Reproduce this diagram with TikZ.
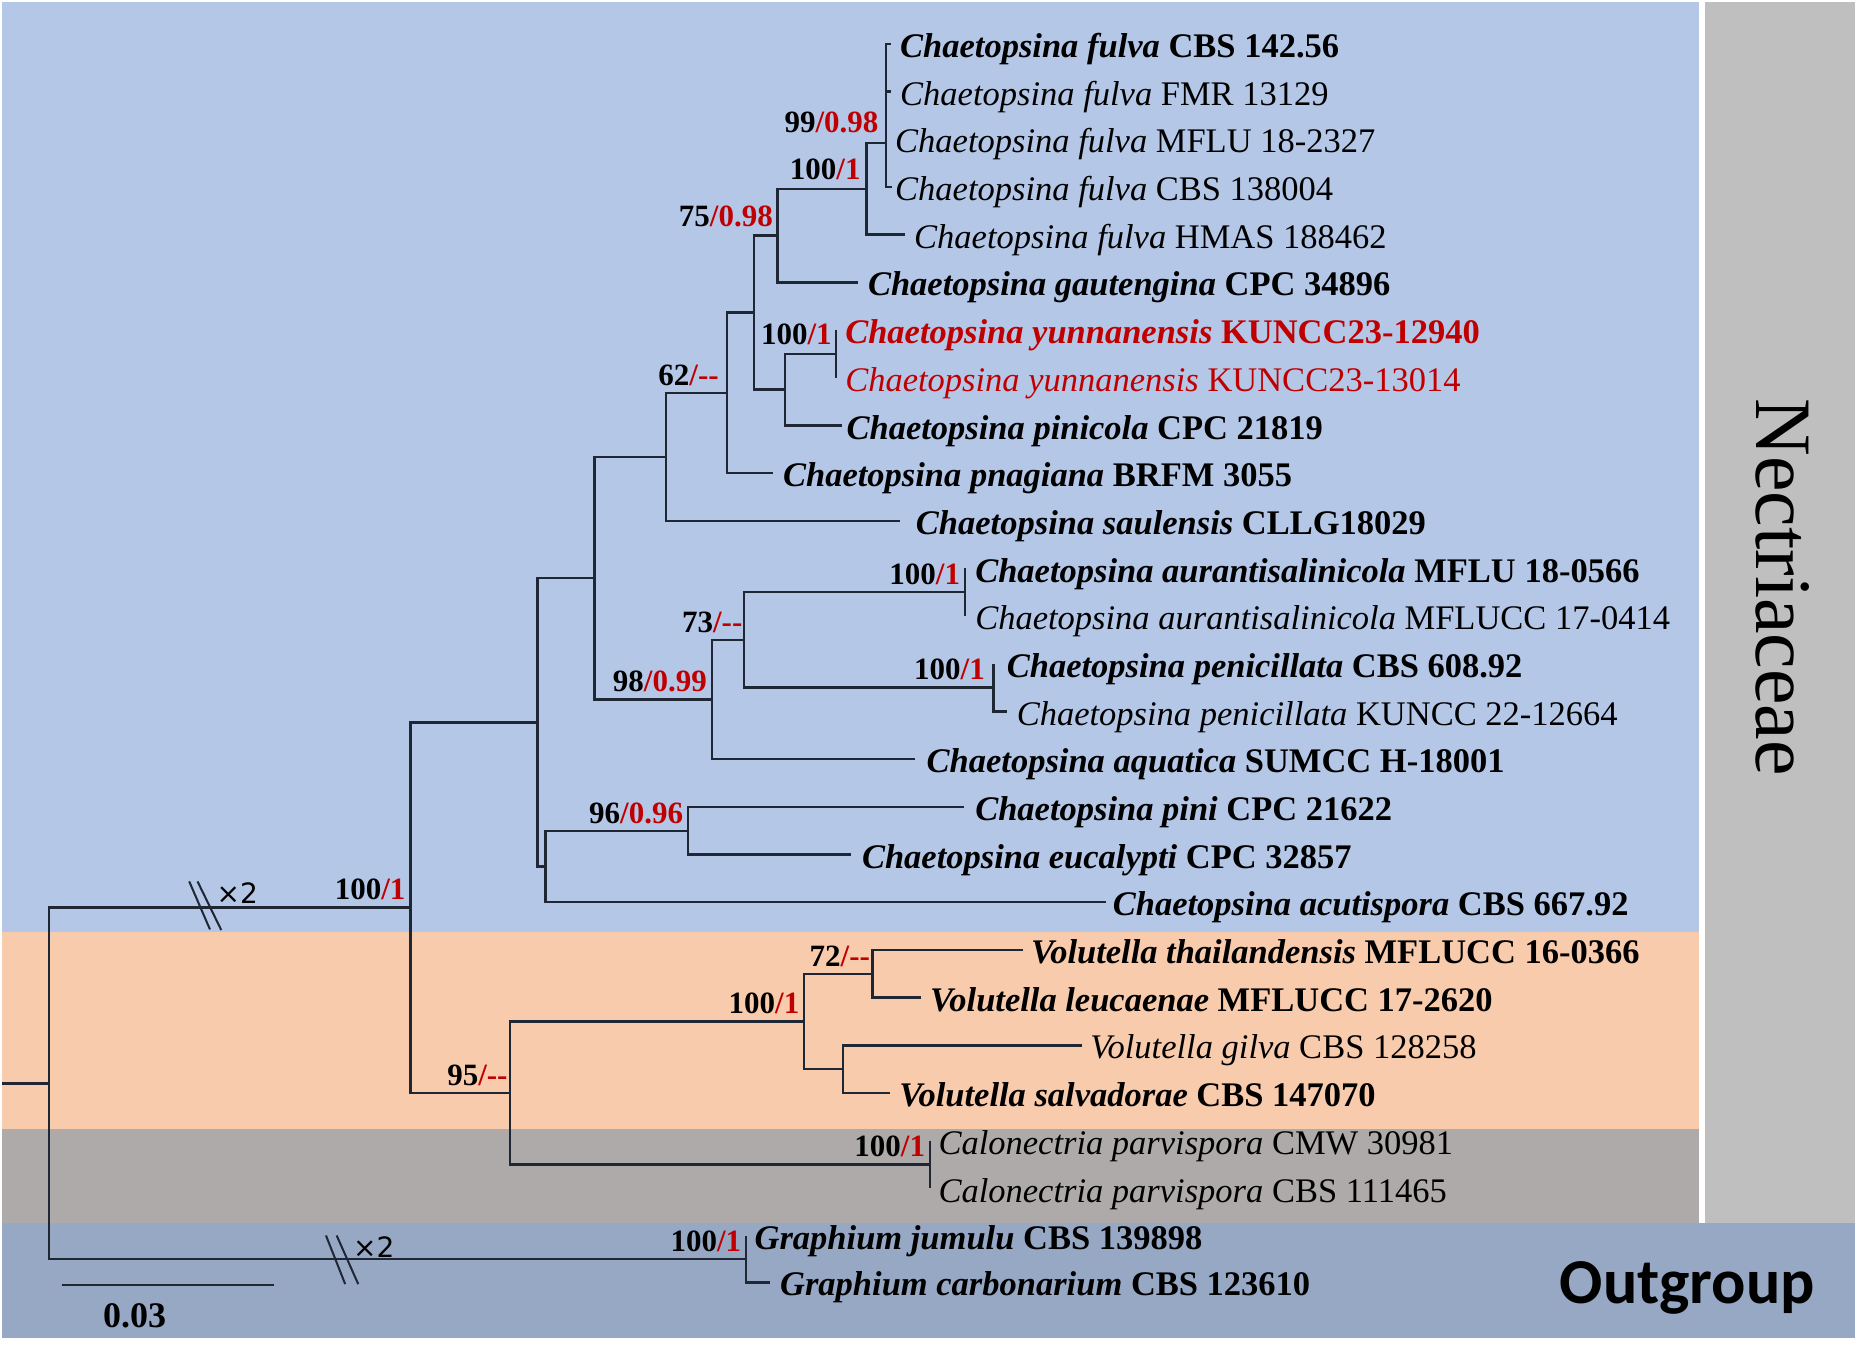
\documentclass[tikz,border=0pt]{standalone}
\usepackage{fontspec}
\setmainfont{Liberation Serif}
\newfontfamily\calib{Carlito}
\newfontfamily\djv{DejaVu Sans}
\definecolor{bgblue}{HTML}{B4C7E7}
\definecolor{bgpeach}{HTML}{F8CBAD}
\definecolor{bggray}{HTML}{AEAAAA}
\definecolor{bgout}{HTML}{96A8C4}
\definecolor{bgbar}{HTML}{BFBFBF}
\definecolor{brc}{HTML}{1E2733}
\definecolor{myred}{HTML}{C00000}
\newcommand\lb[2]{\textbf{\textit{#1} #2}}
\newcommand\lr[2]{\textit{#1} #2}
\newcommand\rd[1]{\textcolor{myred}{#1}}
\begin{document}
\begin{tikzpicture}[x=1.18622pt,y=-1.18622pt,
  br/.style={draw=brc, line width=2.4pt, line join=miter},
  brk/.style={draw=brc, line width=2pt},
  leaf/.style={anchor=base west, inner sep=0pt, text=black, font=\fontsize{34.5}{40}\selectfont},
  redleaf/.style={leaf, text=myred},
  lab/.style={anchor=base east, inner sep=0pt, text=black, font=\fontsize{31}{36}\selectfont\bfseries},
  times/.style={anchor=base west, inner sep=0pt, text=black, font=\djv\fontsize{28}{32}\selectfont},
]
\useasboundingbox (0,0) rectangle (1568,1135);
\fill[white] (0,0) rectangle (1568,1135);
% background bands
\fill[bgblue] (2,2) rectangle (1432,785.5);
\fill[bgpeach] (2,785.5) rectangle (1432,951.5);
\fill[bggray] (2,951.5) rectangle (1432,1031);
\fill[bgout] (2,1031) rectangle (1564,1128);
\fill[bgbar] (1437.5,2) rectangle (1564,1031);

% internal nodes (x, attachment y)
\coordinate (stub) at (2,913.3);
\coordinate (root) at (41.5,913.3);
\coordinate (n1) at (346,765.15);
\coordinate (n2) at (453,608.9);
\coordinate (n3) at (501,487.4);
\coordinate (s) at (561.5,385.1);
\coordinate (t) at (613,331.2);
\coordinate (u) at (635.5,263.5);
\coordinate (w) at (655.6,198.6);
\coordinate (x) at (730.6,159.2);
\coordinate (y) at (746.7,120.6);
\coordinate (z) at (661.8,328.45);
\coordinate (yun) at (704.8,298.3);
\coordinate (r) at (600,589.75);
\coordinate (aa) at (627,539.5);
\coordinate (bb) at (813.5,499.3);
\coordinate (cc) at (837.4,579.7);
\coordinate (p) at (460,730.45);
\coordinate (q) at (580,700.3);
\coordinate (v) at (430,921.4);
\coordinate (vv) at (678,861.1);
\coordinate (v72) at (735.5,820.9);
\coordinate (vg) at (710.5,901.3);
\coordinate (cp) at (784,981.7);
\coordinate (gr) at (629,1061.5);

% leaf tips
\coordinate (t1) at (751,37);
\coordinate (t2) at (751,77.2);
\coordinate (t3) at (746.7,117.4);
\coordinate (t4) at (752,157.6);
\coordinate (t5) at (763,197.8);
\coordinate (t6) at (723,238);
\coordinate (t7) at (704.8,278.2);
\coordinate (t8) at (704.8,318.4);
\coordinate (t9) at (709.5,358.6);
\coordinate (t10) at (652,398.8);
\coordinate (t11) at (759,439);
\coordinate (t12) at (813.5,479.2);
\coordinate (t13) at (813.5,519.4);
\coordinate (t14) at (837.4,559.6);
\coordinate (t15) at (848.6,599.8);
\coordinate (t16) at (771,640);
\coordinate (t17) at (813,680.2);
\coordinate (t18) at (717,720.4);
\coordinate (t19) at (932,760.6);
\coordinate (t20) at (862,800.8);
\coordinate (t21) at (776,841);
\coordinate (t22) at (912,881.2);
\coordinate (t23) at (750,921.4);
\coordinate (t24) at (784,961.6);
\coordinate (t25) at (784,1001.8);
\coordinate (t26) at (629,1042);
\coordinate (t27) at (649,1081);

% branches
\draw[br] (stub) -- (root);
\draw[br] (root) |- (n1) (root) |- (gr);
\draw[br] (n1) |- (n2) (n1) |- (v);
\draw[br] (n2) |- (n3) (n2) |- (p);
\draw[br] (n3) |- (s) (n3) |- (r);
\draw[br] (s) |- (t) (s) |- (t11);
\draw[br] (t) |- (u) (t) |- (t10);
\draw[br] (u) |- (w) (u) |- (z);
\draw[br] (w) |- (x) (w) |- (t6);
\draw[br] (x) |- (y) (x) |- (t5);
\draw[br] (y) |- (t1) (y) |- (t2) (y) -- (t3) (y) |- (t4);
\draw[br] (z) |- (yun) (z) |- (t9);
\draw[br] (yun) -- (t7) (yun) -- (t8);
\draw[br] (r) |- (aa) (r) |- (t16);
\draw[br] (aa) |- (bb) (aa) |- (cc);
\draw[br] (bb) -- (t12) (bb) -- (t13);
\draw[br] (cc) -- (t14) (cc) |- (t15);
\draw[br] (p) |- (q) (p) |- (t19);
\draw[br] (q) |- (t17) (q) |- (t18);
\draw[br] (v) |- (vv) (v) |- (cp);
\draw[br] (vv) |- (v72) (vv) |- (vg);
\draw[br] (v72) |- (t20) (v72) |- (t21);
\draw[br] (vg) |- (t22) (vg) |- (t23);
\draw[br] (cp) -- (t24) (cp) -- (t25);
\draw[br] (gr) -- (t26) (gr) |- (t27);

% axis breaks
\draw[brk] (159.5,743) -- (177,783.5);
\draw[brk] (166.5,743) -- (186.5,784);
\node[times] (x2a) at (182.5,762) {×2};
\draw[brk] (274.8,1041.5) -- (291,1082.5);
\draw[brk] (283.8,1041.5) -- (302,1082.5);
\node[times] (x2b) at (297.5,1060) {×2};

% scale bar
\coordinate (sb1) at (52,1083);
\coordinate (sb2) at (231,1083);
\draw[br] (sb1) -- (sb2);
\node[anchor=base, inner sep=0pt, font=\fontsize{36}{40}\selectfont\bfseries] (sbl) at (113.5,1119.5) {0.03};

% support labels
\node[lab] (Ln1) at ([shift={(-4,-6.5)}]n1) {100\rd{/1}};
\node[lab] (Lv) at ([shift={(-2,-6.5)}]v) {95\rd{/-{}-}};
\node[lab] (Lvv) at ([shift={(-4,-6.5)}]vv) {100\rd{/1}};
\node[lab] (Lv72) at ([shift={(-2,-6.5)}]v72) {72\rd{/-{}-}};
\node[lab] (Lcp) at ([shift={(-4,-6.5)}]cp) {100\rd{/1}};
\node[lab] (Lgr) at ([shift={(-4,-6.5)}]gr) {100\rd{/1}};
\node[lab] (Lq) at ([shift={(-4,-6.5)}]q) {96\rd{/0.96}};
\node[lab] (Lr) at ([shift={(-4,-6.5)}]r) {98\rd{/0.99}};
\node[lab] (Laa) at ([shift={(-1,-6.5)}]aa) {73\rd{/-{}-}};
\node[lab] (Lbb) at ([shift={(-4,-6.5)}]bb) {100\rd{/1}};
\node[lab] (Lcc) at ([shift={(-7,-7)}]cc) {100\rd{/1}};
\node[lab] (Lt) at ([shift={(-7,-6.5)}]t) {62\rd{/-{}-}};
\node[lab] (Lw) at ([shift={(-4,-7.5)}]w) {75\rd{/0.98}};
\node[lab] (Lx) at ([shift={(-5,-7.5)}]x) {100\rd{/1}};
\node[lab] (Ly) at ([shift={(-6,-8.5)}]y) {99\rd{/0.98}};
\node[lab] (Lyun) at ([shift={(-3.5,-8)}]yun) {100\rd{/1}};

% leaf labels
\node[leaf] (L1) at (758.7,48.5) {\lb{Chaetopsina fulva}{CBS 142.56}};
\node[leaf] (L2) at (758.7,88.7) {\lr{Chaetopsina fulva}{FMR 13129}};
\node[leaf] (L3) at (754.5,128.9) {\lr{Chaetopsina fulva}{MFLU 18-2327}};
\node[leaf] (L4) at (754.5,169.1) {\lr{Chaetopsina fulva}{CBS 138004}};
\node[leaf] (L5) at (770.5,209.3) {\lr{Chaetopsina fulva}{HMAS 188462}};
\node[leaf] (L6) at (731.6,249.5) {\lb{Chaetopsina gautengina}{CPC 34896}};
\node[redleaf] (L7) at (712.4,289.7) {\lb{Chaetopsina yunnanensis}{KUNCC23-12940}};
\node[redleaf] (L8) at (712.4,329.9) {\lr{Chaetopsina yunnanensis}{KUNCC23-13014}};
\node[leaf] (L9) at (713.5,370.1) {\lb{Chaetopsina pinicola}{CPC 21819}};
\node[leaf] (L10) at (660,410.3) {\lb{Chaetopsina pnagiana}{BRFM 3055}};
\node[leaf] (L11) at (772,450.5) {\lb{Chaetopsina saulensis}{CLLG18029}};
\node[leaf] (L12) at (822,490.7) {\lb{Chaetopsina aurantisalinicola}{MFLU 18-0566}};
\node[leaf] (L13) at (822,530.9) {\lr{Chaetopsina aurantisalinicola}{MFLUCC 17-0414}};
\node[leaf] (L14) at (848.6,571.1) {\lb{Chaetopsina penicillata}{CBS 608.92}};
\node[leaf] (L15) at (857,611.3) {\lr{Chaetopsina penicillata}{KUNCC 22-12664}};
\node[leaf] (L16) at (781,651.5) {\lb{Chaetopsina aquatica}{SUMCC H-18001}};
\node[leaf] (L17) at (822,691.7) {\lb{Chaetopsina pini}{CPC 21622}};
\node[leaf] (L18) at (726.5,731.9) {\lb{Chaetopsina eucalypti}{CPC 32857}};
\node[leaf] (L19) at (938,772.1) {\lb{Chaetopsina acutispora}{CBS 667.92}};
\node[leaf] (L20) at (869,812.3) {\lb{Volutella thailandensis}{MFLUCC 16-0366}};
\node[leaf] (L21) at (784,852.5) {\lb{Volutella leucaenae}{MFLUCC 17-2620}};
\node[leaf] (L22) at (919,892.7) {\lr{Volutella gilva}{CBS 128258}};
\node[leaf] (L23) at (758,932.9) {\lb{Volutella salvadorae}{CBS 147070}};
\node[leaf] (L24) at (791,973.1) {\lr{Calonectria parvispora}{CMW 30981}};
\node[leaf] (L25) at (791,1013.3) {\lr{Calonectria parvispora}{CBS 111465}};
\node[leaf] (L26) at (636,1053.5) {\lb{Graphium jumulu}{CBS 139898}};
\node[leaf] (L27) at (657.5,1092.5) {\lb{Graphium carbonarium}{CBS 123610}};

% group names
\node[rotate=-90, inner sep=0pt, font=\fontsize{80}{90}\selectfont] (nec) at (1503,495) {Nectriaceae};
\node[anchor=base, inner sep=0pt, font=\calib\bfseries\fontsize{64}{70}\selectfont] (out) at (1422.5,1099) {Outgroup};
\end{tikzpicture}
\end{document}
